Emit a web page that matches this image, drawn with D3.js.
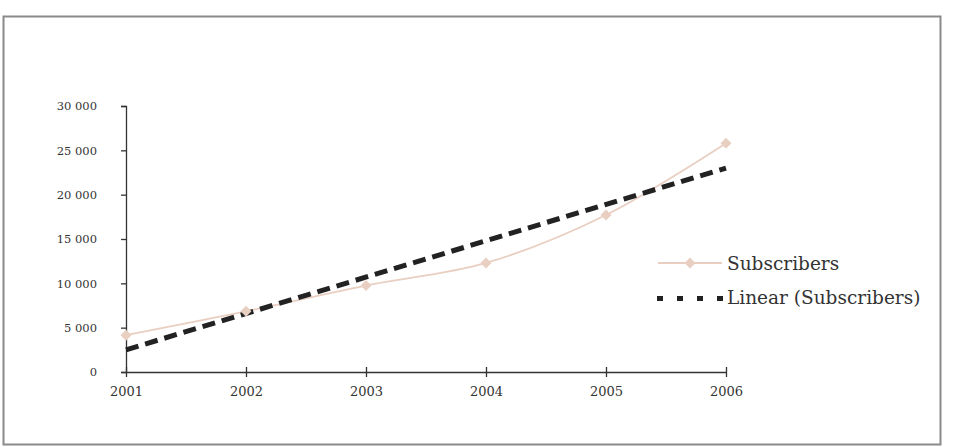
<!DOCTYPE html>
<html><head><meta charset="utf-8">
<script src="https://cdn.jsdelivr.net/npm/d3@7"></script>
<style>
html,body{margin:0;padding:0;background:#fff;}
svg{display:block;}
text{font-family:"DejaVu Serif","Liberation Serif",serif;fill:#333;}
</style></head>
<body>
<svg id="c" width="956" height="447"></svg>
<script>
const years = ["2001","2002","2003","2004","2005","2006"];
const subscribers = [4150, 6850, 9750, 12300, 17700, 25800];
const trendYears = ["2001","2006"];
const trendValues = [2500, 23000];
const yTicks = [0, 5000, 10000, 15000, 20000, 25000, 30000];
const seriesNames = ["Subscribers", "Linear (Subscribers)"];

const svg = d3.select("#c");
// outer frame
svg.append("rect").attr("x",3.5).attr("y",16.5).attr("width",937).attr("height",428)
  .attr("fill","#fff").attr("stroke","#8a8a8a").attr("stroke-width",2);

const x = d3.scalePoint().domain(years).range([126,726]);
const y = d3.scaleLinear().domain([0,30000]).range([372,106]);

const fmt = v => d3.format(",")(v).replace(/,/g," ");

const ya = svg.append("g").attr("transform","translate(126,0)")
  .call(d3.axisLeft(y).tickValues(yTicks).tickFormat(fmt).tickSize(5).tickPadding(24));
ya.selectAll("text").style("font-size","11.5px").attr("fill","#333");
ya.select(".domain").attr("stroke","#333").attr("stroke-width",1.3);
ya.selectAll(".tick line").attr("stroke","#333").attr("stroke-width",1.3);

const xa = svg.append("g").attr("transform","translate(0,372)")
  .call(d3.axisBottom(x).tickSizeInner(5).tickSizeOuter(0).tickPadding(10));
xa.selectAll("text").style("font-size","13px").attr("fill","#333");
xa.select(".domain").attr("stroke","#333").attr("stroke-width",1.3);
xa.selectAll(".tick line").attr("stroke","#333").attr("stroke-width",1.3).attr("y1",-5);

const col = "#e9cfc1";
const line = d3.line().x((d,i)=>x(years[i])).y(d=>y(d)).curve(d3.curveCatmullRom.alpha(0.5));
svg.append("path").datum(subscribers).attr("d",line).attr("fill","none")
  .attr("stroke",col).attr("stroke-width",1.8);

const trendLine = d3.line().x((d,i)=>x(trendYears[i])).y(d=>y(d));
svg.append("path").datum(trendValues).attr("d",trendLine).attr("fill","none")
  .attr("stroke","#222").attr("stroke-width",5).attr("stroke-dasharray","13,7");

const diamondPath = "M0,-5.5L5.5,0L0,5.5L-5.5,0Z";
svg.selectAll(".pt").data(subscribers).join("path").attr("class","pt")
  .attr("d",diamondPath).attr("transform",(d,i)=>`translate(${x(years[i])},${y(d)})`)
  .attr("fill",col);

// legend
const lg = svg.append("g");
lg.append("line").attr("x1",658).attr("x2",722).attr("y1",263).attr("y2",263)
  .attr("stroke",col).attr("stroke-width",1.8);
lg.append("path").attr("d",diamondPath).attr("transform","translate(690,263)").attr("fill",col);
lg.append("text").attr("x",727).attr("y",270).text(seriesNames[0]).style("font-size","18.5px");
lg.append("line").attr("x1",657).attr("x2",724).attr("y1",298.5).attr("y2",298.5)
  .attr("stroke","#222").attr("stroke-width",5).attr("stroke-dasharray","6,14");
lg.append("text").attr("x",727).attr("y",304).text(seriesNames[1]).style("font-size","18.5px");
</script>
</body></html>
